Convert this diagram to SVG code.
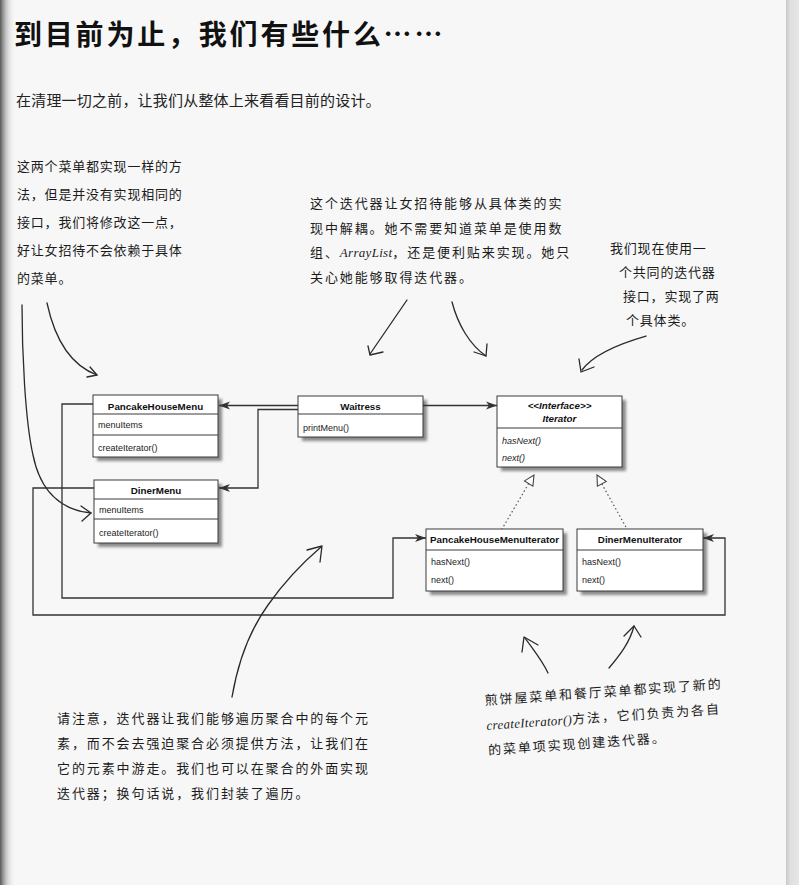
<svg xmlns="http://www.w3.org/2000/svg" width="799" height="885" viewBox="0 0 799 885">
  <style>
    .title { font-family: "Noto Sans CJK SC", "Liberation Sans", sans-serif; font-weight: 700; font-size: 28px; fill: #111; letter-spacing: 2.8px; }
    .lead { font-family: "Noto Sans CJK SC", "Liberation Serif", serif; font-size: 15px; fill: #222; letter-spacing: 0.2px; }
    .hand { font-family: "Noto Sans CJK SC", "Liberation Sans", sans-serif; font-size: 13px; fill: #1c1c1c; letter-spacing: 1.9px; font-weight: 400; }
    .tight { letter-spacing: 0.8px; }
    .script { font-family: "Liberation Serif", serif; font-style: italic; letter-spacing: 0.3px; }
    .box { fill: #fff; stroke: #3a3a3a; stroke-width: 1; }
    .shadow { fill: #8a8a8a; filter: url(#soft); }
    .sep { stroke: #3a3a3a; stroke-width: 1; }
    .cname { font-family: "Liberation Sans", Arial, sans-serif; font-weight: bold; font-size: 9.8px; fill: #111; text-anchor: middle; }
    .member { font-family: "Liberation Sans", Arial, sans-serif; font-size: 9px; fill: #222; }
    .ital { font-style: italic; }
    .assoc { fill: none; stroke: #333; stroke-width: 1.3; marker-end: url(#nav); }
    .real { fill: none; stroke: #555; stroke-width: 1.2; stroke-dasharray: 1.5 2.5; }
    .tri { fill: #fff; stroke: #444; stroke-width: 1.1; }
    .pen { fill: none; stroke: #2a2a2a; stroke-width: 1.3; stroke-linecap: round; stroke-linejoin: round; }
  </style>
  <defs>
    <filter id="soft" x="-10%" y="-10%" width="130%" height="140%">
      <feGaussianBlur stdDeviation="1.6"/>
    </filter>
    <marker id="nav" markerWidth="12" markerHeight="10" refX="11" refY="5" orient="auto" markerUnits="userSpaceOnUse">
      <path d="M0,1 L11,5 L0,9 L3,5 Z" fill="#333"/>
    </marker>
    <linearGradient id="leftEdge" x1="0" y1="0" x2="1" y2="0">
      <stop offset="0" stop-color="#3c3c3c" stop-opacity="0.85"/>
      <stop offset="0.45" stop-color="#8a8a8a" stop-opacity="0.35"/>
      <stop offset="1" stop-color="#ffffff" stop-opacity="0"/>
    </linearGradient>
    <linearGradient id="rightEdge" x1="0" y1="0" x2="1" y2="0">
      <stop offset="0" stop-color="#c8c8c8"/>
      <stop offset="0.3" stop-color="#dedede"/>
      <stop offset="1" stop-color="#e6e6e6"/>
    </linearGradient>
  </defs>

  <!-- page -->
  <rect x="0" y="0" width="799" height="885" fill="#f7f7f7"/>
  <rect x="786" y="0" width="13" height="885" fill="url(#rightEdge)"/>
  <rect x="0" y="0" width="16" height="885" fill="url(#leftEdge)"/>

  <!-- heading -->
  <g id="heading">
    <text class="title" x="14" y="45">到目前为止，我们有些什么……</text>
    <text class="lead" x="16" y="106">在清理一切之前，让我们从整体上来看看目前的设计。</text>
  </g>

  <!-- notes -->
  <g id="note-menus">
    <text class="hand tight" x="17" y="171">这两个菜单都实现一样的方</text>
    <text class="hand tight" x="17" y="199">法，但是并没有实现相同的</text>
    <text class="hand tight" x="17" y="227">接口，我们将修改这一点，</text>
    <text class="hand tight" x="17" y="255">好让女招待不会依赖于具体</text>
    <text class="hand tight" x="17" y="283">的菜单。</text>
  </g>
  <g id="note-decouple">
    <text class="hand" x="310" y="208">这个迭代器让女招待能够从具体类的实</text>
    <text class="hand" x="310" y="233">现中解耦。她不需要知道菜单是使用数</text>
    <text class="hand" x="310" y="257">组、<tspan class="script">ArrayList</tspan>，还是便利贴来实现。她只</text>
    <text class="hand" x="310" y="282">关心她能够取得迭代器。</text>
  </g>
  <g id="note-common">
    <text class="hand tight" x="610" y="253">我们现在使用一</text>
    <text class="hand tight" x="619" y="277">个共同的迭代器</text>
    <text class="hand tight" x="623" y="301">接口，实现了两</text>
    <text class="hand tight" x="626" y="325">个具体类。</text>
  </g>
  <g id="note-traverse">
    <text class="hand" x="57" y="723">请注意，迭代器让我们能够遍历聚合中的每个元</text>
    <text class="hand" x="57" y="748">素，而不会去强迫聚合必须提供方法，让我们在</text>
    <text class="hand" x="57" y="773">它的元素中游走。我们也可以在聚合的外面实现</text>
    <text class="hand" x="57" y="798">迭代器；换句话说，我们封装了遍历。</text>
  </g>
  <g id="note-create" transform="rotate(-4 485 705)">
    <text class="hand" x="485" y="705">煎饼屋菜单和餐厅菜单都实现了新的</text>
    <text class="hand" x="485" y="730"><tspan class="script">createIterator()</tspan>方法，它们负责为各自</text>
    <text class="hand" x="485" y="755">的菜单项实现创建迭代器。</text>
  </g>

  <!-- classes -->
  <g id="PancakeHouseMenu">
    <rect class="shadow" x="97" y="399" width="125" height="62"/>
    <rect class="box" x="93" y="395" width="125" height="62"/>
    <line class="sep" x1="93" y1="414" x2="218" y2="414"/>
    <line class="sep" x1="93" y1="435" x2="218" y2="435"/>
    <text class="cname" x="155.5" y="410">PancakeHouseMenu</text>
    <text class="member" x="98" y="428">menuItems</text>
    <text class="member" x="98" y="451">createIterator()</text>
  </g>
  <g id="Waitress">
    <rect class="shadow" x="302" y="400" width="125" height="41"/>
    <rect class="box" x="298" y="396" width="125" height="41"/>
    <line class="sep" x1="298" y1="414" x2="423" y2="414"/>
    <text class="cname" x="360.5" y="410">Waitress</text>
    <text class="member" x="303" y="431">printMenu()</text>
  </g>
  <g id="Iterator">
    <rect class="shadow" x="501" y="400" width="125" height="71"/>
    <rect class="box" x="497" y="396" width="125" height="71"/>
    <line class="sep" x1="497" y1="428" x2="622" y2="428"/>
    <text class="cname ital" x="559.5" y="409">&lt;&lt;Interface&gt;&gt;</text>
    <text class="cname ital" x="559.5" y="422">Iterator</text>
    <text class="member ital" x="502" y="444">hasNext()</text>
    <text class="member ital" x="502" y="461">next()</text>
  </g>
  <g id="DinerMenu">
    <rect class="shadow" x="98" y="484" width="124" height="63"/>
    <rect class="box" x="94" y="480" width="124" height="63"/>
    <line class="sep" x1="94" y1="499" x2="218" y2="499"/>
    <line class="sep" x1="94" y1="519" x2="218" y2="519"/>
    <text class="cname" x="156" y="494">DinerMenu</text>
    <text class="member" x="99" y="513">menuItems</text>
    <text class="member" x="99" y="536">createIterator()</text>
  </g>
  <g id="PancakeHouseMenuIterator">
    <rect class="shadow" x="430" y="533" width="137" height="62"/>
    <rect class="box" x="426" y="529" width="137" height="62"/>
    <line class="sep" x1="426" y1="550" x2="563" y2="550"/>
    <text class="cname" x="494.5" y="543">PancakeHouseMenuIterator</text>
    <text class="member" x="431" y="565">hasNext()</text>
    <text class="member" x="431" y="583">next()</text>
  </g>
  <g id="DinerMenuIterator">
    <rect class="shadow" x="581" y="533" width="126" height="62"/>
    <rect class="box" x="577" y="529" width="126" height="62"/>
    <line class="sep" x1="577" y1="550" x2="703" y2="550"/>
    <text class="cname" x="640" y="543">DinerMenuIterator</text>
    <text class="member" x="582" y="565">hasNext()</text>
    <text class="member" x="582" y="583">next()</text>
  </g>

  <!-- connectors -->
  <g id="connectors">
    <path class="assoc" d="M298,405.5 H219"/>
    <path class="assoc" d="M298,409.5 H258 V488 H219"/>
    <path class="assoc" d="M423,405.5 H497"/>
    <path class="assoc" d="M93,404 H62 V598 H393 V538 H426"/>
    <path class="assoc" d="M94,488 H33 V615 H725 V538 H703"/>
    <path class="real" d="M528.7,483.5 L502,529"/>
    <polygon class="tri" points="534,475 532.9,486.1 524.5,480.9"/>
    <path class="real" d="M601.8,483.8 L627,529"/>
    <polygon class="tri" points="597,475 606.2,481.4 597.4,486.2"/>
  </g>

  <!-- pen strokes from the notes -->
  <g id="pointers">
    <path class="pen" d="M22,305 C22,350 25,420 33,455 C40,490 60,510 91,513"/>
    <path class="pen" d="M81,506 L91,513 L82,521"/>
    <path class="pen" d="M47,303 C55,340 70,365 97,375"/>
    <path class="pen" d="M90,367 L97,375 L87,377"/>
    <path class="pen" d="M407,300 L370,354"/>
    <path class="pen" d="M368,346 L370,355 L383,352"/>
    <path class="pen" d="M452,302 C458,325 470,345 486,356"/>
    <path class="pen" d="M474,352 L486,356 L487,344"/>
    <path class="pen" d="M646,336 C625,342 595,352 582,370"/>
    <path class="pen" d="M579,359 L581,372 L594,367"/>
    <path class="pen" d="M232,697 C238,662 250,630 268,605 C282,585 300,565 321,547"/>
    <path class="pen" d="M307,550 L322,546 L320,562"/>
    <path class="pen" d="M548,673 C542,660 532,648 525,638"/>
    <path class="pen" d="M522,652 L524,637 L538,645"/>
    <path class="pen" d="M609,668 C620,655 630,642 634,626"/>
    <path class="pen" d="M624,636 L634,626 L641,637"/>
  </g>
</svg>
